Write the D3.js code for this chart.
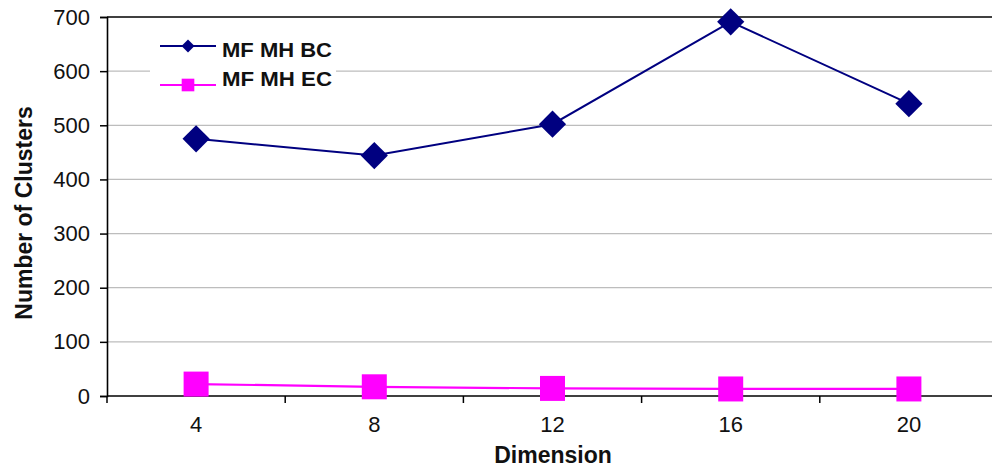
<!DOCTYPE html>
<html>
<head>
<meta charset="utf-8">
<script src="https://cdn.jsdelivr.net/npm/d3@7"></script>
<style>
  html, body { margin: 0; padding: 0; background: #ffffff; }
  svg { display: block; font-family: "Liberation Sans", Arial, sans-serif; }
</style>
</head>
<body>
<svg id="chart" width="992" height="468"></svg>
<script>
// Dimensions on the x axis
const dimensions = ["4", "8", "12", "16", "20"];
// Number of clusters per series
const seriesBC = [475, 444, 502, 691, 540];
const seriesEC = [22, 17, 14, 13, 13];
const seriesNames = ["MF MH BC", "MF MH EC"];
const yTicks = [0, 100, 200, 300, 400, 500, 600, 700];

const svg = d3.select("#chart");
const plotLeft = 107, plotRight = 998, plotTop = 17, plotBottom = 396;

const x = d3.scaleBand().domain(dimensions).range([plotLeft, plotRight]);
const y = d3.scaleLinear().domain([0, 700]).range([plotBottom, plotTop]);

// Horizontal gridlines
svg.append("g").selectAll("line")
  .data(yTicks.filter(d => d > 0 && d < 700))
  .join("line")
  .attr("x1", plotLeft).attr("x2", plotRight)
  .attr("y1", d => y(d)).attr("y2", d => y(d))
  .attr("stroke", "#bdbdbd").attr("stroke-width", 1.2);

// Top border of the plot area
svg.append("line")
  .attr("x1", plotLeft).attr("x2", plotRight)
  .attr("y1", y(700)).attr("y2", y(700))
  .attr("stroke", "#000").attr("stroke-width", 1.5);

// Y axis
const yAxis = svg.append("g")
  .attr("transform", `translate(${plotLeft},0)`)
  .call(d3.axisLeft(y).tickValues(yTicks).tickSize(7).tickPadding(10));
yAxis.select(".domain").attr("stroke", "#000").attr("stroke-width", 1.6);
yAxis.selectAll(".tick line").attr("stroke", "#000").attr("stroke-width", 1.5);
yAxis.selectAll(".tick text")
  .attr("font-size", 22).attr("fill", "#111")
  .attr("font-family", "Liberation Sans, Arial, sans-serif");

// X axis: ticks at category boundaries, labels at category centres
const xAxisG = svg.append("g").attr("transform", `translate(0,${plotBottom})`);
xAxisG.append("line")
  .attr("x1", plotLeft).attr("x2", plotRight)
  .attr("stroke", "#000").attr("stroke-width", 1.6);
const boundaries = dimensions.map(d => x(d)).concat([x(dimensions[dimensions.length - 1]) + x.bandwidth()]);
xAxisG.selectAll("line.tick")
  .data(boundaries)
  .join("line").attr("class", "tick")
  .attr("x1", d => d).attr("x2", d => d)
  .attr("y1", 0).attr("y2", 7)
  .attr("stroke", "#000").attr("stroke-width", 1.5);
xAxisG.selectAll("text")
  .data(dimensions)
  .join("text")
  .attr("x", d => x(d) + x.bandwidth() / 2)
  .attr("y", 36)
  .attr("text-anchor", "middle")
  .attr("font-size", 22).attr("fill", "#111")
  .text(d => d);

const cx = d => x(d) + x.bandwidth() / 2;
const line = d3.line().x(d => cx(d[0])).y(d => y(d[1]));

// Series EC (magenta squares)
const ecData = dimensions.map((d, i) => [d, seriesEC[i]]);
svg.append("path").datum(ecData)
  .attr("d", line).attr("fill", "none")
  .attr("stroke", "#ff00ff").attr("stroke-width", 2.2);
svg.append("g").selectAll("path")
  .data(ecData).join("path")
  .attr("d", d3.symbol(d3.symbolSquare, 625)())
  .attr("transform", d => `translate(${cx(d[0])},${y(d[1])})`)
  .attr("fill", "#ff00ff");

// Series BC (navy diamonds)
const bcData = dimensions.map((d, i) => [d, seriesBC[i]]);
svg.append("path").datum(bcData)
  .attr("d", line).attr("fill", "none")
  .attr("stroke", "#000080").attr("stroke-width", 2);
svg.append("g").selectAll("path")
  .data(bcData).join("path")
  .attr("d", d3.symbol(d3.symbolSquare, 370)())
  .attr("transform", d => `translate(${cx(d[0])},${y(d[1])}) rotate(45)`)
  .attr("fill", "#000080");

// Legend
const legend = svg.append("g");
legend.append("rect")
  .attr("x", 150).attr("y", 34).attr("width", 186).attr("height", 58)
  .attr("fill", "#ffffff");
const legendItems = [
  { name: seriesNames[0], color: "#000080", ly: 46, ty: 57, shape: "diamond" },
  { name: seriesNames[1], color: "#ff00ff", ly: 85, ty: 86, shape: "square" }
];
legendItems.forEach(it => {
  legend.append("line")
    .attr("x1", 160).attr("x2", 216)
    .attr("y1", it.ly).attr("y2", it.ly)
    .attr("stroke", it.color).attr("stroke-width", 2);
  legend.append("path")
    .attr("d", d3.symbol(d3.symbolSquare, it.shape === "diamond" ? 84 : 160)())
    .attr("transform", `translate(188,${it.ly})` + (it.shape === "diamond" ? " rotate(45)" : ""))
    .attr("fill", it.color);
  legend.append("text")
    .attr("x", 222).attr("y", it.ty)
    .attr("font-size", 21).attr("font-weight", "bold").attr("fill", "#111")
    .attr("textLength", 110).attr("lengthAdjust", "spacingAndGlyphs")
    .text(it.name);
});

// Axis titles
svg.append("text")
  .attr("x", 553).attr("y", 463)
  .attr("text-anchor", "middle")
  .attr("font-size", 23).attr("font-weight", "bold").attr("fill", "#111")
  .text("Dimension");
svg.append("text")
  .attr("transform", "translate(32,213) rotate(-90)")
  .attr("text-anchor", "middle")
  .attr("font-size", 23).attr("font-weight", "bold").attr("fill", "#111")
  .text("Number of Clusters");
</script>
</body>
</html>
